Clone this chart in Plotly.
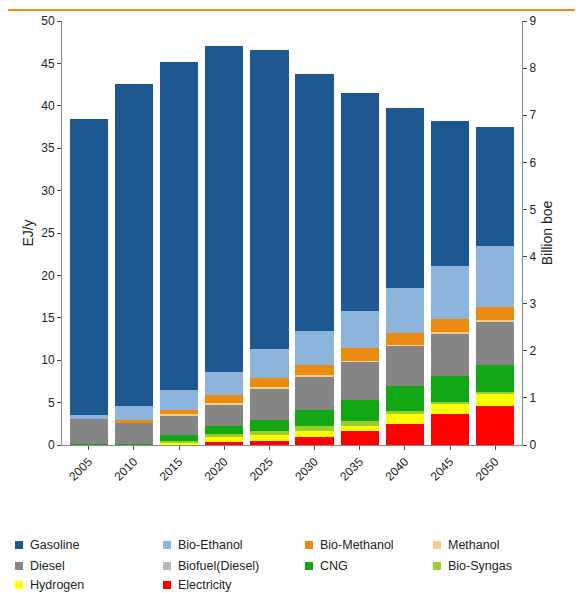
import plotly.graph_objects as go

years = ["2005","2010","2015","2020","2025","2030","2035","2040","2045","2050"]
electricity = [0.0,0.0,0.1,0.3,0.5,1.0,1.6,2.5,3.7,4.6]
hydrogen    = [0.0,0.0,0.1,0.7,0.7,0.6,0.6,1.2,1.2,1.5]
bio_syngas  = [0.0,0.0,0.3,0.3,0.4,0.6,0.6,0.3,0.2,0.2]
cng         = [0.1,0.1,0.7,0.9,1.4,1.9,2.5,3.0,3.0,3.1]
biofuel_d   = [0.0,0.0,0.0,0.0,0.0,0.0,0.0,0.0,0.0,0.0]
diesel      = [3.0,2.5,2.3,2.6,3.7,4.0,4.5,4.7,5.1,5.2]
methanol    = [0.0,0.1,0.1,0.1,0.1,0.1,0.1,0.1,0.1,0.1]
bio_meth    = [0.0,0.2,0.5,1.0,1.1,1.2,1.5,1.4,1.6,1.6]
bio_eth     = [0.4,1.7,2.4,2.7,3.4,4.0,4.4,5.3,6.2,7.2]
gasoline    = [35.0,38.0,38.7,38.4,35.3,30.4,25.7,21.2,17.1,14.0]

series = [
    ("Electricity", electricity, "#ff0000"),
    ("Hydrogen", hydrogen, "#ffff00"),
    ("Bio-Syngas", bio_syngas, "#9acd32"),
    ("CNG", cng, "#13a813"),
    ("Biofuel(Diesel)", biofuel_d, "#b8b8b8"),
    ("Diesel", diesel, "#858585"),
    ("Methanol", methanol, "#f5cf86"),
    ("Bio-Methanol", bio_meth, "#ec8b12"),
    ("Bio-Ethanol", bio_eth, "#8db4da"),
    ("Gasoline", gasoline, "#1d5890"),
]
legend_order = ["Gasoline","Bio-Ethanol","Bio-Methanol","Methanol","Diesel",
                "Biofuel(Diesel)","CNG","Bio-Syngas","Hydrogen","Electricity"]
colors = {n: c for n, _, c in series}

fig = go.Figure()
for name, vals, col in series:
    fig.add_trace(go.Bar(x=years, y=vals, name=name, marker_color=col,
                         marker_line_width=0, showlegend=False))
fig.add_trace(go.Scatter(x=years, y=[None]*10, yaxis="y2", showlegend=False, hoverinfo="skip"))

L, B, W, H = 54, 437, 460, 424
col_px = [7, 155, 297, 425]
row_py = [537, 558, 577]
top_line_y = (B - 2) / H
shapes = [dict(type="line", xref="paper", yref="paper", x0=-0.2, x1=1.2,
               y0=top_line_y, y1=top_line_y, line=dict(color="#f08a1c", width=2))]
annotations = []
for i, name in enumerate(legend_order):
    px = col_px[i % 4]; py = row_py[i // 4]
    x0 = (px - L) / W; x1 = (px + 8 - L) / W
    yc = (B - py) / H; h = 4 / H
    shapes.append(dict(type="rect", xref="paper", yref="paper", x0=x0, x1=x1,
                       y0=yc - h, y1=yc + h, fillcolor=colors[name], line_width=0))
    annotations.append(dict(xref="paper", yref="paper", x=(px + 13 - L) / W, y=yc,
                            text=name, showarrow=False, xanchor="left", yanchor="middle",
                            font=dict(size=12.5, color="#222")))

fig.update_layout(
    width=583, height=593, barmode="stack", bargap=0.15,
    plot_bgcolor="white", paper_bgcolor="white",
    font=dict(family="Liberation Sans, Arial", size=12, color="#222"),
    margin=dict(l=54, r=69, t=13, b=156, autoexpand=False),
    xaxis=dict(tickangle=-45, showline=True, linecolor="#888", ticks="outside", ticklen=4),
    yaxis=dict(range=[0,50], dtick=5, showgrid=False, showline=True, linecolor="#888",
               ticks="outside", ticklen=4, title=dict(text="EJ/y", standoff=4)),
    yaxis2=dict(range=[0,9], dtick=1, overlaying="y", side="right", showgrid=False,
                showline=True, linecolor="#888", ticks="outside", ticklen=4,
                title=dict(text="Billion boe", standoff=6)),
    shapes=shapes, annotations=annotations,
)
fig.write_html("out.html")
